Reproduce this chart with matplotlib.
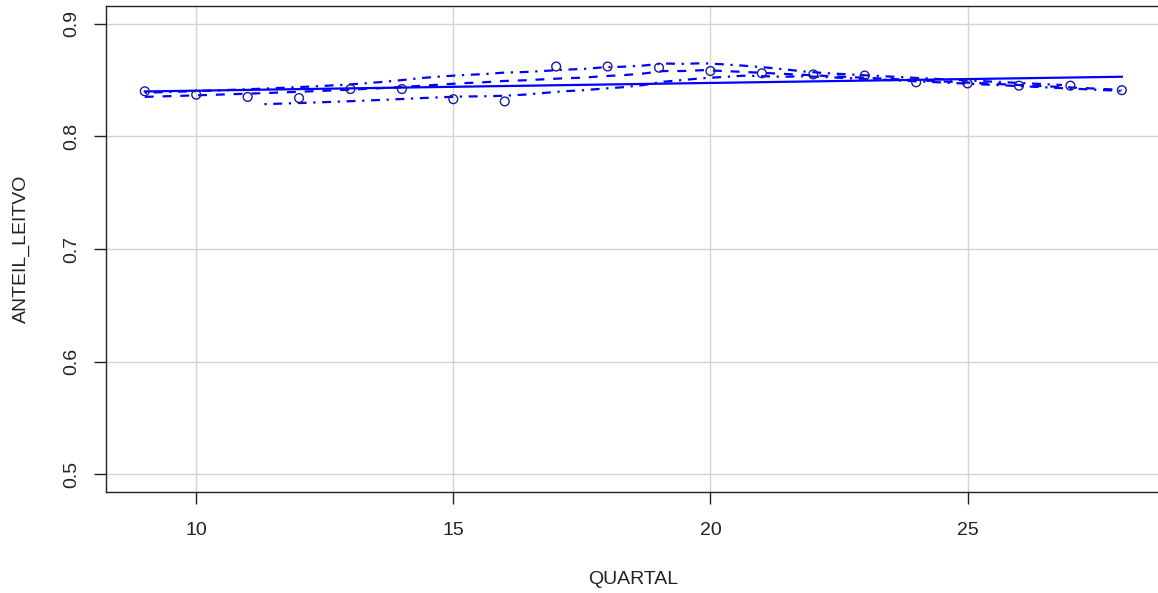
import numpy as np
import matplotlib.pyplot as plt

plt.rcParams['font.family'] = ['Liberation Sans', 'DejaVu Sans']

quartal = np.arange(9, 29)
anteil_leitvo = np.array([0.840, 0.837, 0.835, 0.834, 0.842, 0.842, 0.833, 0.831,
                          0.862, 0.862, 0.861, 0.858, 0.856, 0.855, 0.854, 0.848,
                          0.847, 0.845, 0.845, 0.841])

x_ticks = [10, 15, 20, 25]
y_ticks = [0.5, 0.6, 0.7, 0.8, 0.9]

BLUE = '#0000ff'
TXT = '#222222'


def loess(x, y, x_new, span=2/3, degree=1, iterations=4):
    # local weighted polynomial fit with bisquare robustness steps
    n = len(x)
    q = max(int(np.floor(n * span)), degree + 1)
    robust = np.ones(n)

    def fit_at(x0):
        d = np.abs(x - x0)
        h = np.sort(d)[q - 1] * 1.0001
        w = np.clip(1 - (d / h) ** 3, 0, None) ** 3 * robust
        X = np.vander(x - x0, degree + 1, increasing=True)
        sw = np.sqrt(w)
        beta = np.linalg.lstsq(X * sw[:, None], y * sw, rcond=None)[0]
        return beta[0]

    for it in range(iterations):
        fitted = np.array([fit_at(v) for v in x])
        if it == iterations - 1:
            break
        res = y - fitted
        s = 6 * np.median(np.abs(res))
        if s == 0:
            break
        r = np.abs(res) / s
        robust = np.where(r < 1, (1 - r ** 2) ** 2, 0.0)
    return fitted, np.array([fit_at(v) for v in x_new])


x = quartal.astype(float)
y = anteil_leitvo
x_eval = np.linspace(x.min(), x.max(), 50)

fitted, smooth = loess(x, y, x_eval)
res = y - fitted
pos = res > 0


def spread(mask, sign):
    # smooth of squared positive / negative residuals around the fit
    xs = x[mask]
    keep = (x_eval >= xs.min()) & (x_eval <= xs.max())
    _, var = loess(xs, res[mask] ** 2, x_eval[keep], degree=0, iterations=1)
    return x_eval[keep], smooth[keep] + sign * np.sqrt(np.clip(var, 0, None))


slope, icept = np.polyfit(x, y, 1)

fig = plt.figure(figsize=(11.58, 5.93), dpi=100)
ax = fig.add_axes([105.7 / 1158, 1 - 492.3 / 593, (1160.9 - 105.7) / 1158, (492.3 - 5.7) / 593])

ax.set_xlim(8.24, 28.76)
ax.set_ylim(0.484, 0.916)
ax.set_xticks(x_ticks)
ax.set_yticks(y_ticks)
ax.set_yticklabels([str(v) for v in y_ticks], rotation=90, va='center')
ax.grid(True, color='#d3d3d3', linewidth=1)
ax.set_axisbelow(True)

ax.scatter(x, y, s=40, facecolors='none', edgecolors='#1a1a99', linewidths=1, zorder=3)
ax.plot([x.min(), x.max()], [icept + slope * x.min(), icept + slope * x.max()],
        color=BLUE, lw=1.6, zorder=2)
ax.plot(x_eval, smooth, color=BLUE, lw=1.6, dashes=(4, 4), zorder=2)
for mask, sign in [(pos, 1), (~pos, -1)]:
    xs, ys = spread(mask, sign)
    ax.plot(xs, ys, color=BLUE, lw=1.6, dashes=(1, 3, 4, 3), zorder=2)

for sp in ax.spines.values():
    sp.set_color(TXT)
    sp.set_linewidth(1)
ax.tick_params(length=8.5, width=1, color=TXT, labelsize=14, labelcolor=TXT)
ax.tick_params(axis='x', pad=13)
ax.tick_params(axis='y', pad=10)
ax.set_xlabel('QUARTAL', fontsize=14, labelpad=23, color=TXT)
ax.set_ylabel('ANTEIL_LEITVO', fontsize=14, labelpad=24, color=TXT)

fig.savefig('out.png', dpi=100)
